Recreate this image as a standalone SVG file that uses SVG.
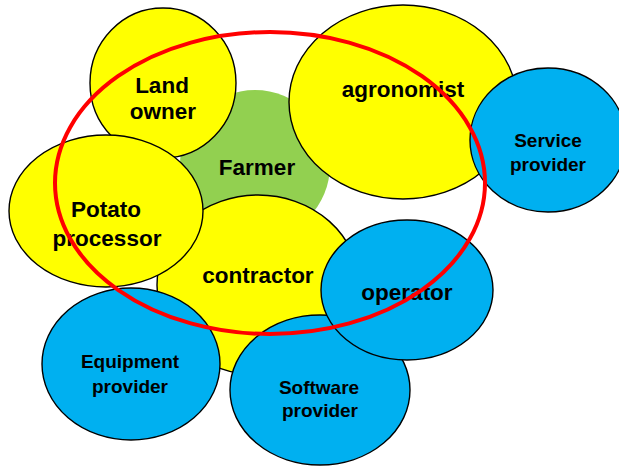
<svg xmlns="http://www.w3.org/2000/svg" width="619" height="466" viewBox="0 0 619 466">
<style>
.y{fill:#FFFF00;stroke:#000;stroke-width:1.4}
.b{fill:#00B0F0;stroke:#000;stroke-width:1.4}
.g{fill:#92D050}
text{font-family:"Liberation Sans",Arial,sans-serif;font-weight:bold;fill:#000;text-anchor:middle}
.L{font-size:22.5px}
.S{font-size:19px}
</style>
<rect width="619" height="466" fill="#fff"/>
<g id="farmer"><circle class="g" cx="255" cy="165" r="75"/><text class="L" x="257" y="175">Farmer</text></g>
<g id="land-owner"><ellipse class="y" cx="163" cy="83" rx="73" ry="75"/><text class="L" x="162" y="93">Land</text><text class="L" x="163" y="119">owner</text></g>
<g id="agronomist"><ellipse class="y" cx="403" cy="102" rx="114" ry="97"/><text class="L" x="403" y="97">agronomist</text></g>
<g id="contractor"><ellipse class="y" cx="258" cy="285" rx="101" ry="90"/><text class="L" x="258" y="283">contractor</text></g>
<g id="potato-processor"><ellipse class="y" cx="106" cy="211" rx="97" ry="76"/><text class="L" x="106" y="217">Potato</text><text class="L" x="107" y="246">processor</text></g>
<g id="service-provider"><ellipse class="b" cx="548" cy="140" rx="78" ry="72"/><text class="S" x="548" y="147">Service</text><text class="S" x="548" y="171">provider</text></g>
<g id="equipment-provider"><ellipse class="b" cx="131" cy="364" rx="89" ry="76"/><text class="S" x="130" y="368">Equipment</text><text class="S" x="130" y="393">provider</text></g>
<g id="software-provider"><ellipse class="b" cx="320" cy="390" rx="90" ry="75"/><text class="S" x="319" y="394">Software</text><text class="S" x="320" y="417">provider</text></g>
<g id="operator"><ellipse class="b" cx="407" cy="290" rx="86" ry="70"/><text class="L" x="407" y="300">operator</text></g>
<g id="connectors"><ellipse cx="270" cy="183" rx="215" ry="151" fill="none" stroke="#FF0000" stroke-width="4"/></g>
</svg>
